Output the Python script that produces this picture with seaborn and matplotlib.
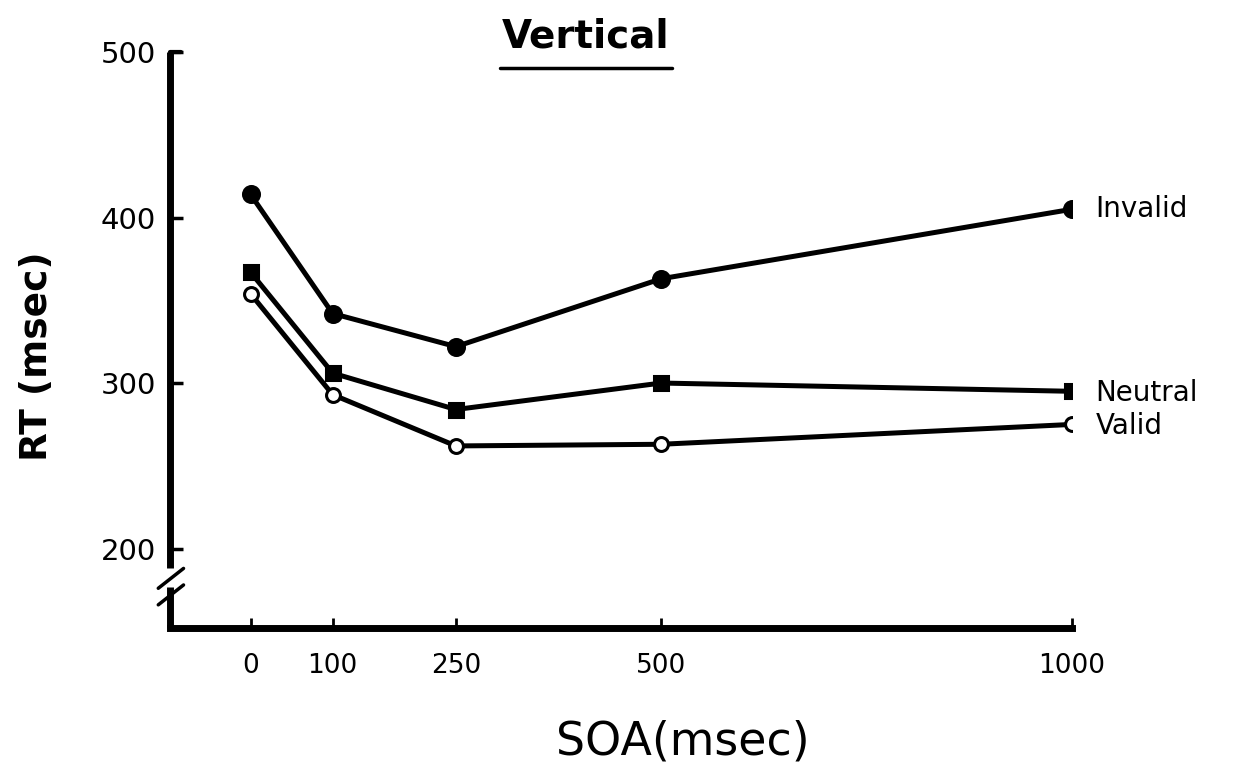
import matplotlib
matplotlib.use("Agg")
import matplotlib.pyplot as plt
from matplotlib.lines import Line2D
import matplotlib.transforms as mtransforms
import seaborn as sns

# Reaction time by cue-target SOA, vertical cue condition
soa = [0, 100, 250, 500, 1000]
invalid_rt = [414, 342, 322, 363, 405]
neutral_rt = [367, 306, 284, 300, 295]
valid_rt = [354, 293, 262, 263, 275]
series_names = ["Invalid", "Neutral", "Valid"]
x_ticks = [0, 100, 250, 500, 1000]
y_ticks = [200, 300, 400, 500]

sns.set_theme(style="white")
plt.rcParams["font.family"] = ["DejaVu Sans"]

fig = plt.figure(figsize=(12.35, 7.7), dpi=100)
ax = fig.add_axes([170 / 1235, 1 - 628 / 770, (1072 - 170) / 1235, (628 - 52) / 770])

styles = {
    "Invalid": dict(marker="o", markersize=11.5, markerfacecolor="black"),
    "Neutral": dict(marker="s", markersize=10, markerfacecolor="black"),
    "Valid": dict(marker="o", markersize=10, markerfacecolor="white"),
}
values = {"Invalid": invalid_rt, "Neutral": neutral_rt, "Valid": valid_rt}

for name in series_names:
    sns.lineplot(x=soa, y=values[name], ax=ax, color="black", linewidth=3.6,
                 markeredgecolor="black", markeredgewidth=2.2, **styles[name])

ax.set_xlim(-98, 1000)
ax.set_ylim(152, 500)
ax.set_xticks(x_ticks)
ax.set_xticklabels([str(v) for v in x_ticks])
ax.set_yticks(y_ticks)
ax.set_yticklabels([str(v) for v in y_ticks])
ax.tick_params(axis="x", direction="in", length=7, width=2, pad=18,
               labelsize=19, colors="black")
ax.tick_params(axis="y", direction="in", length=9, width=2.5, pad=10,
               labelsize=21, colors="black")
ax.tick_params(axis="both", which="both", bottom=True, left=True)

for side in ["top", "right", "left"]:
    ax.spines[side].set_visible(False)
ax.spines["bottom"].set_linewidth(5)
ax.spines["bottom"].set_color("black")
ax.spines["bottom"].set_capstyle("projecting")

# left axis drawn in two pieces with a break near the bottom
ytrans = mtransforms.blended_transform_factory(ax.transAxes, ax.transData)
ax.add_line(Line2D([0, 0], [500, 188], transform=ytrans, color="black",
                   linewidth=5, clip_on=False, solid_capstyle="butt"))
ax.add_line(Line2D([0, 0], [177, 152], transform=ytrans, color="black",
                   linewidth=5, clip_on=False, solid_capstyle="butt"))
ax.add_line(Line2D([0, 0.012], [500, 500], transform=ytrans, color="black",
                   linewidth=3, clip_on=False))
for y0 in (176, 166):
    ax.add_line(Line2D([-0.013, 0.015], [y0, y0 + 12], transform=ytrans,
                       color="black", linewidth=2.5, clip_on=False))

# series labels at the right end
label_offsets = {"Invalid": 0, "Neutral": -1, "Valid": -1}
for name in series_names:
    ax.annotate(name, xy=(1000, values[name][-1]), xytext=(17, label_offsets[name]),
                textcoords="offset points", ha="left", va="center",
                fontsize=20, color="black", annotation_clip=False)

# title with underline
fig.text(586 / 1235, 1 - 37 / 770, "Vertical", ha="center", va="center",
         fontsize=28, fontweight="bold", color="black")
fig.add_artist(Line2D([500 / 1235, 672 / 1235], [1 - 68 / 770, 1 - 68 / 770],
                      transform=fig.transFigure, color="black", linewidth=2.5))

fig.text(683 / 1235, 1 - 742 / 770, "SOA(msec)", ha="center", va="center",
         fontsize=33, color="black")
fig.text(37 / 1235, 1 - 356 / 770, "RT (msec)", ha="center", va="center",
         rotation=90, fontsize=27, fontweight="bold", color="black")

fig.savefig("out.png", dpi=100, facecolor="white")
